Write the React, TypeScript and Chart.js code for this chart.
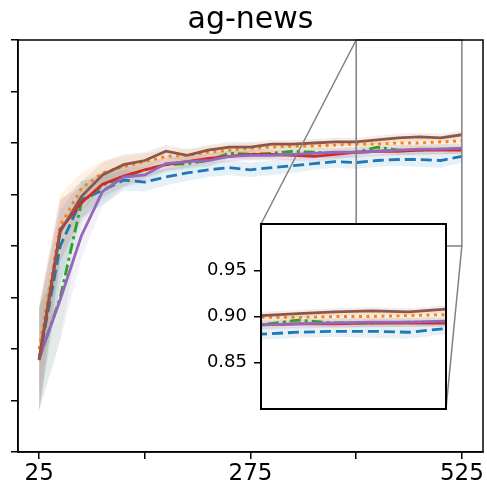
import React, { useEffect, useRef } from "react";
import { Chart, registerables } from "chart.js";

Chart.register(...registerables);

// ---- data ----
const budgets = [25, 50, 75, 100, 125, 150, 175, 200, 225, 250, 275, 300, 325, 350, 375, 400, 425, 450, 475, 500, 525];
const xTicks = [25, 150, 275, 400, 525];
const xTickLabels = [25, 275, 525];
const yTicks = [0.6, 0.65, 0.7, 0.75, 0.8, 0.85, 0.9, 0.95, 1.0];
const insetYTicks = [0.85, 0.9, 0.95];

const blueMean = [0.690, 0.800, 0.845, 0.854, 0.864, 0.862, 0.867, 0.871, 0.874, 0.876, 0.874, 0.876, 0.878, 0.880, 0.882, 0.881, 0.883, 0.884, 0.884, 0.883, 0.887];
const blueStd = [0.050, 0.035, 0.018, 0.014, 0.010, 0.009, 0.008, 0.008, 0.007, 0.007, 0.007, 0.007, 0.007, 0.006, 0.006, 0.006, 0.006, 0.006, 0.007, 0.007, 0.006];
const orangeMean = [0.700, 0.820, 0.856, 0.871, 0.877, 0.882, 0.887, 0.888, 0.891, 0.893, 0.895, 0.896, 0.897, 0.897, 0.898, 0.899, 0.899, 0.900, 0.900, 0.901, 0.902];
const orangeStd = [0.045, 0.030, 0.015, 0.012, 0.010, 0.008, 0.006, 0.006, 0.005, 0.005, 0.005, 0.004, 0.004, 0.004, 0.004, 0.004, 0.004, 0.004, 0.004, 0.004, 0.004];
const greenMean = [0.690, 0.750, 0.842, 0.859, 0.867, 0.874, 0.879, 0.880, 0.883, 0.890, 0.889, 0.890, 0.892, 0.891, 0.890, 0.891, 0.896, 0.893, 0.893, 0.894, 0.894];
const greenStd = [0.050, 0.040, 0.020, 0.014, 0.010, 0.008, 0.007, 0.006, 0.006, 0.005, 0.005, 0.005, 0.005, 0.005, 0.005, 0.005, 0.005, 0.005, 0.005, 0.005, 0.005];
const redMean = [0.690, 0.816, 0.842, 0.860, 0.868, 0.874, 0.879, 0.882, 0.885, 0.887, 0.889, 0.889, 0.888, 0.887, 0.889, 0.891, 0.892, 0.892, 0.893, 0.893, 0.893];
const redStd = [0.050, 0.030, 0.015, 0.012, 0.010, 0.008, 0.006, 0.006, 0.005, 0.005, 0.005, 0.005, 0.005, 0.005, 0.005, 0.004, 0.004, 0.004, 0.004, 0.004, 0.004];
const purpleMean = [0.691, 0.748, 0.810, 0.853, 0.867, 0.869, 0.880, 0.882, 0.883, 0.887, 0.888, 0.888, 0.889, 0.890, 0.891, 0.891, 0.892, 0.893, 0.894, 0.894, 0.895];
const purpleStd = [0.050, 0.040, 0.022, 0.015, 0.010, 0.008, 0.007, 0.006, 0.006, 0.005, 0.005, 0.005, 0.005, 0.005, 0.005, 0.005, 0.005, 0.005, 0.005, 0.005, 0.005];
const brownMean = [0.689, 0.814, 0.848, 0.869, 0.879, 0.883, 0.892, 0.888, 0.893, 0.896, 0.896, 0.899, 0.899, 0.900, 0.901, 0.901, 0.903, 0.905, 0.906, 0.905, 0.908];
const brownStd = [0.050, 0.030, 0.015, 0.012, 0.010, 0.008, 0.006, 0.006, 0.005, 0.005, 0.005, 0.004, 0.004, 0.004, 0.004, 0.004, 0.004, 0.004, 0.004, 0.004, 0.004];

const series = [
  { name: "blue", mean: blueMean, std: blueStd, color: "#1f77b4", band: "rgba(31,119,180,0.11)", dash: [11, 5], order: 5 },
  { name: "orange", mean: orangeMean, std: orangeStd, color: "#ff7f0e", band: "rgba(255,127,14,0.10)", dash: [3, 4.5], order: 4 },
  { name: "green", mean: greenMean, std: greenStd, color: "#2ca02c", band: "rgba(44,160,44,0.09)", dash: [11, 4, 3, 4], order: 3 },
  { name: "red", mean: redMean, std: redStd, color: "#d62728", band: "rgba(214,39,40,0.09)", dash: [], order: 2 },
  { name: "purple", mean: purpleMean, std: purpleStd, color: "#9467bd", band: "rgba(148,103,189,0.09)", dash: [], order: 1 },
  { name: "brown", mean: brownMean, std: brownStd, color: "#8c564b", band: "rgba(140,86,75,0.11)", dash: [], order: 0 },
];

// inset box as fraction of the main plot area
const INSET = { x0: 0.5226, x1: 0.9204, y0: 0.4466, y1: 0.8956 };
const ZOOM = { xMin: 400, xMax: 525, yMin: 0.8, yMax: 1.0 };

function makeDatasets() {
  const ds: any[] = [];
  series.forEach((s, k) => {
    ds.push({
      label: s.name + "-lo",
      data: budgets.map((x, i) => ({ x, y: s.mean[i] - s.std[i] })),
      borderWidth: 0,
      pointRadius: 0,
      fill: false,
      order: 20 + k,
    });
    ds.push({
      label: s.name + "-hi",
      data: budgets.map((x, i) => ({ x, y: s.mean[i] + s.std[i] })),
      borderWidth: 0,
      pointRadius: 0,
      backgroundColor: s.band,
      fill: "-1",
      order: 20 + k,
    });
  });
  series.forEach((s) => {
    ds.push({
      label: s.name,
      data: budgets.map((x, i) => ({ x, y: s.mean[i] })),
      borderColor: s.color,
      borderWidth: 2.8,
      borderDash: s.dash,
      pointRadius: 0,
      fill: false,
      tension: 0,
      order: s.order,
    });
  });
  return ds;
}

export default function App() {
  const mainRef = useRef<HTMLCanvasElement | null>(null);
  const insetRef = useRef<HTMLCanvasElement | null>(null);

  useEffect(() => {
    Chart.defaults.font.family = "DejaVu Sans";
    Chart.defaults.color = "#000";
    const mainCanvas = mainRef.current!;
    const insetCanvas = insetRef.current!;

    const insetBox = (ca: any) => {
      const w = ca.right - ca.left;
      const h = ca.bottom - ca.top;
      return {
        left: ca.left + INSET.x0 * w,
        right: ca.left + INSET.x1 * w,
        top: ca.top + INSET.y0 * h,
        bottom: ca.top + INSET.y1 * h,
      };
    };

    const noPad = (s: any) => {
      s.paddingTop = 0;
      s.paddingBottom = 0;
      s.paddingLeft = 0;
      s.paddingRight = 0;
    };

    const framePlugin = {
      id: "frame",
      afterDatasetsDraw(chart: any) {
        const { ctx, chartArea: ca, scales } = chart;
        const xs = scales.x;
        const ys = scales.y;
        const rx0 = xs.getPixelForValue(ZOOM.xMin);
        const rx1 = xs.getPixelForValue(ZOOM.xMax);
        const ry0 = Math.max(ys.getPixelForValue(ZOOM.yMax), ca.top);
        const ry1 = ys.getPixelForValue(ZOOM.yMin);
        const b = insetBox(ca);
        ctx.save();
        ctx.strokeStyle = "#808080";
        ctx.lineWidth = 1.5;
        ctx.strokeRect(rx0, ry0, rx1 - rx0, ry1 - ry0);
        ctx.beginPath();
        ctx.moveTo(rx0, ry0);
        ctx.lineTo(b.left, b.top);
        ctx.moveTo(rx1, ry1);
        ctx.lineTo(b.right, b.bottom);
        ctx.stroke();
        ctx.strokeStyle = "#000";
        ctx.lineWidth = 1.5;
        ctx.strokeRect(ca.left, ca.top, ca.right - ca.left, ca.bottom - ca.top);
        ctx.restore();
      },
    };

    mainCanvas.width = 487;
    mainCanvas.height = 484;
    const main = new Chart(mainCanvas, {
      type: "line",
      data: { datasets: makeDatasets() },
      plugins: [framePlugin],
      options: {
        responsive: false,
        animation: false,
        events: [],
        layout: { padding: { left: 0, right: 4, top: 0, bottom: 0 } },
        plugins: {
          legend: { display: false },
          tooltip: { enabled: false },
          title: {
            display: true,
            text: "ag-news",
            fullSize: false,
            color: "#000",
            font: { size: 30, weight: "normal", family: "DejaVu Sans" },
            padding: { top: 2, bottom: 2 },
          },
        },
        scales: {
          x: {
            type: "linear",
            min: 0,
            max: 550,
            afterBuildTicks: (s: any) => {
              s.ticks = xTicks.map((v) => ({ value: v }));
            },
            afterFit: (s: any) => {
              s.height = 32;
              noPad(s);
            },
            ticks: {
              autoSkip: false,
              maxRotation: 0,
              padding: 1,
              color: "#000",
              font: { size: 23, family: "DejaVu Sans" },
              callback: (v: any) => (xTickLabels.includes(Number(v)) ? String(v) : ""),
            },
            grid: { drawOnChartArea: false, color: "#000", lineWidth: 1.5, tickLength: 7 },
            border: { color: "#000", width: 1.5 },
          },
          y: {
            type: "linear",
            min: 0.6,
            max: 1.0,
            afterBuildTicks: (s: any) => {
              s.ticks = yTicks.map((v) => ({ value: v }));
            },
            afterFit: (s: any) => {
              s.width = 18;
              noPad(s);
            },
            ticks: { callback: () => "", padding: 0 },
            grid: { drawOnChartArea: false, color: "#000", lineWidth: 1.5, tickLength: 7 },
            border: { color: "#000", width: 1.5 },
          },
        },
      } as any,
    });

    const b = insetBox(main.chartArea);
    const padL = 70, padT = 10, padR = 5, padB = 5;
    const cw = Math.round(b.right - b.left) + padL + padR;
    const chh = Math.round(b.bottom - b.top) + padT + padB;
    insetCanvas.width = cw;
    insetCanvas.height = chh;
    insetCanvas.style.position = "absolute";
    insetCanvas.style.left = Math.round(b.left - padL) + "px";
    insetCanvas.style.top = Math.round(b.top - padT) + "px";
    insetCanvas.style.width = cw + "px";
    insetCanvas.style.height = chh + "px";

    const insetPlugin = {
      id: "insetBg",
      beforeDraw(chart: any) {
        const { ctx, chartArea: ca } = chart;
        ctx.save();
        ctx.fillStyle = "#fff";
        ctx.fillRect(ca.left, ca.top, ca.right - ca.left, ca.bottom - ca.top);
        ctx.restore();
      },
      afterDraw(chart: any) {
        const { ctx, chartArea: ca } = chart;
        ctx.save();
        ctx.strokeStyle = "#000";
        ctx.lineWidth = 2;
        ctx.strokeRect(ca.left, ca.top, ca.right - ca.left, ca.bottom - ca.top);
        ctx.restore();
      },
    };

    const inset = new Chart(insetCanvas, {
      type: "line",
      data: { datasets: makeDatasets() },
      plugins: [insetPlugin],
      options: {
        responsive: false,
        animation: false,
        events: [],
        layout: { padding: { left: 0, right: padR, top: padT, bottom: padB } },
        plugins: { legend: { display: false }, tooltip: { enabled: false }, title: { display: false } },
        scales: {
          x: { type: "linear", min: ZOOM.xMin, max: ZOOM.xMax, display: false },
          y: {
            type: "linear",
            min: ZOOM.yMin,
            max: ZOOM.yMax,
            afterBuildTicks: (s: any) => {
              s.ticks = insetYTicks.map((v) => ({ value: v }));
            },
            afterFit: (s: any) => {
              s.width = padL;
              noPad(s);
            },
            ticks: {
              padding: 7,
              color: "#000",
              font: { size: 18, family: "DejaVu Sans" },
              callback: (v: any) => Number(v).toFixed(2),
            },
            grid: { drawOnChartArea: false, color: "#000", lineWidth: 1.5, tickLength: 7 },
            border: { color: "#000", width: 2 },
          },
        },
      } as any,
    });

    return () => {
      inset.destroy();
      main.destroy();
    };
  }, []);

  return (
    <div style={{ position: "absolute", left: 0, top: 0, width: 487, height: 484, background: "#fff" }}>
      <canvas ref={mainRef} style={{ position: "absolute", left: 0, top: 0, width: 487, height: 484 }} />
      <canvas ref={insetRef} />
    </div>
  );
}
